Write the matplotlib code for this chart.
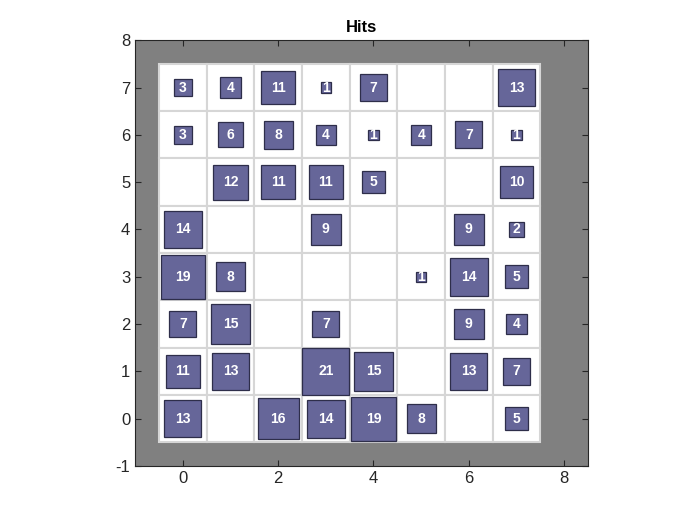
import numpy as np
import matplotlib.pyplot as plt
from matplotlib.patches import Rectangle

plt.rcParams['font.family'] = ['Liberation Sans', 'DejaVu Sans']
plt.rcParams['axes.unicode_minus'] = False

# SOM hit counts, rows listed from y=7 (top) down to y=0
hits = np.array([
    [3, 4, 11, 1, 7, 0, 0, 13],
    [3, 6, 8, 4, 1, 4, 7, 1],
    [0, 12, 11, 11, 5, 0, 0, 10],
    [14, 0, 0, 9, 0, 0, 9, 2],
    [19, 8, 0, 0, 0, 1, 14, 5],
    [7, 15, 0, 7, 0, 0, 9, 4],
    [11, 13, 0, 21, 15, 0, 13, 7],
    [13, 0, 16, 14, 19, 8, 0, 5],
])
n_rows, n_cols = hits.shape
x_ticks = [0, 2, 4, 6, 8]
y_ticks = [-1, 0, 1, 2, 3, 4, 5, 6, 7, 8]

fig = plt.figure(figsize=(7, 5.25), dpi=100)
ax = fig.add_axes([0.193, 0.1124, 0.647, 0.811])
ax.set_facecolor('#808080')

max_hits = hits.max()
for r in range(n_rows):
    y = n_rows - 1 - r
    for c in range(n_cols):
        ax.add_patch(Rectangle((c - 0.5, y - 0.5), 1, 1, facecolor='white',
                               edgecolor='#d6d6d6', lw=1.5, zorder=1))
        h = hits[r, c]
        if h == 0:
            continue
        s = np.sqrt(h / max_hits) * 0.98
        ax.add_patch(Rectangle((c - s / 2, y - s / 2), s, s, facecolor='#666699',
                               edgecolor='#2e2e4a', lw=0.9, zorder=2))
        ax.text(c, y, str(h), color='white', fontsize=10, fontweight='bold',
                ha='center', va='center', zorder=3)

ax.set_xlim(-1, 8.5)
ax.set_ylim(-1, 8)
ax.set_xticks(x_ticks)
ax.set_yticks(y_ticks)
ax.tick_params(direction='in', top=True, right=True, labelsize=12, length=4,
               colors='#262626')
for sp in ax.spines.values():
    sp.set_color('#262626')
ax.set_title('Hits', fontsize=12, fontweight='bold')

fig.savefig('out.png')
